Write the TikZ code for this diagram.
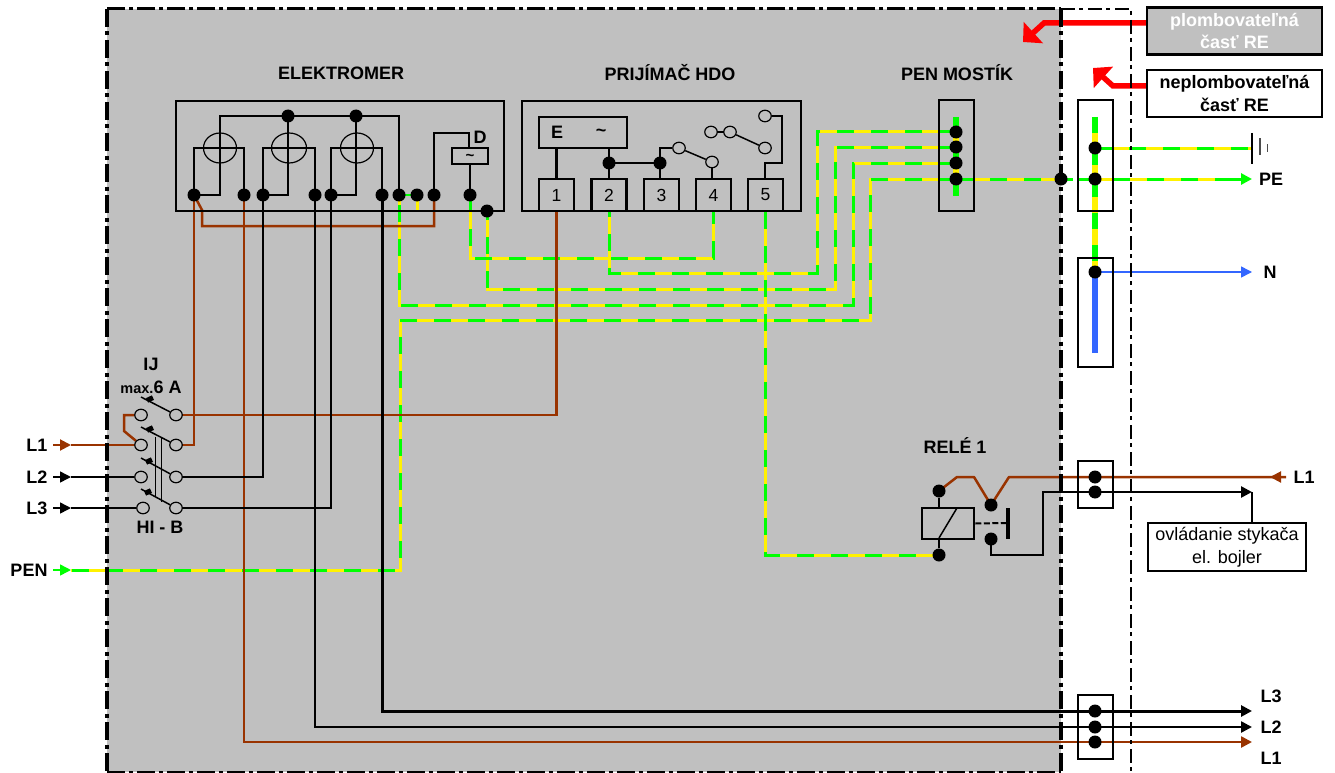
\documentclass[tikz,border=0pt]{standalone}
\usepackage{fontspec}
\setmainfont{Liberation Sans}
\usetikzlibrary{arrows.meta,backgrounds,shapes.geometric}
\definecolor{panelgray}{HTML}{C0C0C0}
\definecolor{wirebrown}{HTML}{993300}
\definecolor{wireblue}{HTML}{3366FF}

\begin{document}
\begin{tikzpicture}[
  x=1pt,y=-1pt,
  line join=miter,
  dot/.style={circle,fill=black,inner sep=0pt,minimum size=13pt},
  contact/.style={ellipse,draw,fill=panelgray,inner sep=0pt,line width=1.2pt,minimum width=12.5pt,minimum height=11.5pt},
  terminal/.style={draw,line width=2.5pt,inner sep=0pt,minimum width=35pt,minimum height=32pt,font=\fontsize{17.5}{19}\selectfont},
  title/.style={inner sep=0pt,font=\fontsize{18}{20}\selectfont\bfseries},
  strip/.style={draw,line width=2.5pt,inner sep=0pt,minimum width=35pt},
  notebox/.style={draw,line width=2.5pt,inner sep=0pt,minimum width=175pt,minimum height=47pt,align=center},
  wire/.style={line width=2.5pt,line cap=rect},
  brownwire/.style={wire,draw=wirebrown},
  penwire/.style={line width=3pt,draw=yellow,postaction={draw=green,dash pattern=on 17pt off 17pt}},
  penbar/.style={line width=6pt,draw=yellow,postaction={draw=green,dash pattern=on 16pt off 16pt}},
  tipped/.style={-{Triangle[length=11pt,width=11pt]}},
  redarrow/.style={line width=5.5pt,draw=red,-{Triangle[length=14pt,width=28pt]}},
  lever/.style={line width=1.5pt},
  tab/.style={fill=black,inner sep=0pt,minimum width=6.5pt,minimum height=5pt,rotate=25}
  ]
  \useasboundingbox (0,0) rectangle (1335,773);

  % headings
  \node[title] (ElText) at (341,73) {ELEKTROMER};
  \node[title] (HdoText) at (670,73) {PRIJÍMAČ HDO};
  \node[title] (MostText) at (957,73) {PEN MOSTÍK};
  \node[title] (ReleText) at (955,446) {RELÉ 1};

  % meter
  \node[draw,line width=2.5pt,minimum width=328pt,minimum height=110pt,inner sep=0pt] (Meter) at (340,156) {};
  \node[ellipse,draw,line width=1.2pt,minimum width=33pt,minimum height=30pt,inner sep=0pt] (C1) at (220,148) {};
  \node[ellipse,draw,line width=1.2pt,minimum width=35pt,minimum height=30pt,inner sep=0pt] (C2) at (289,148) {};
  \node[ellipse,draw,line width=1.2pt,minimum width=33pt,minimum height=30pt,inner sep=0pt] (C3) at (357,148) {};
  \node[dot] (Mt1) at (288,116) {};
  \node[dot] (Mt2) at (356,116) {};
  \node[dot] (M1) at (194,195) {};
  \node[dot] (M2) at (244,195) {};
  \node[dot] (M3) at (263,195) {};
  \node[dot] (M4) at (315,195) {};
  \node[dot] (M5) at (331,195) {};
  \node[dot] (M6) at (382,195) {};
  \node[dot] (M7) at (399,195) {};
  \node[dot] (M8) at (417,195) {};
  \node[dot] (M9) at (434,195) {};
  \node[dot] (M10) at (470,195) {};
  \node[dot] (M11) at (487,211) {};
  \node[draw,line width=2.5pt,minimum width=36pt,minimum height=16pt,inner sep=0pt] (Dbox) at (470,156) {};
  \node[inner sep=0pt,font=\fontsize{15}{17}\selectfont\bfseries] (Dwave) at (470,157) {\symbol{126}};
  \node[title] (Dtext) at (480,137) {D};
  \draw[wire] (M1.center) -- (194,148) -- (244,148) -- (M2.center);
  \draw[wire] (M3.center) -- (263,148) -- (315,148) -- (M4.center);
  \draw[wire] (M5.center) -- (331,148) -- (382,148) -- (M6.center);
  \draw[wire] (M1.center) -| (220,116) -- (Mt1.center) -- (Mt2.center) -| (M7.center);
  \draw[wire] (M3.center) -| (Mt1.center);
  \draw[wire] (M5.center) -| (Mt2.center);
  \draw[wire] (M9.center) |- (469,133) -- (Dbox.north -| 469,133);
  \draw[wire] (Dbox) -- (M10);

  % receiver
  \node[draw,line width=2.5pt,minimum width=279pt,minimum height=110pt,inner sep=0pt] (Hdo) at (661.5,156) {};
  \node[draw,line width=2.5pt,minimum width=88pt,minimum height=31pt,inner sep=0pt] (Ebox) at (583,132.5) {};
  \node[title] (Etext) at (557,132) {E};
  \node[title] (Wave) at (601,133) {\symbol{126}};
  \node[terminal] (T1) at (556.5,195) {1};
  \node[terminal] (T2) at (609,195) {2};
  \node[terminal] (T3) at (661.5,195) {3};
  \node[terminal] (T4) at (713.5,195) {4};
  \node[terminal] (T5) at (765.5,195) {5};
  \node[dot] (R1) at (609,163) {};
  \node[dot] (R2) at (660,163) {};
  \node[contact] (K1) at (679,148) {};
  \node[contact] (K2) at (712,162) {};
  \node[contact] (K3) at (711,132) {};
  \node[contact] (K4) at (730,132) {};
  \node[contact] (K5) at (765,148) {};
  \node[contact] (K6) at (765,116) {};
  \coordinate (Eb1) at (556.5,148);
  \coordinate (Eb2) at (609,148);
  \coordinate (K5up) at (782,116);
  \coordinate (K5low) at (782,163);
  \coordinate (K5t) at (765,163);
  \draw[wire,line cap=butt] (Eb1) -- (T1.north);
  \draw[wire,line cap=butt] (Eb2) -- (T2.north);
  \draw[wire] (R1) -- (R2);
  \draw[wire,line cap=butt] (T3.north -| R2) |- (K1);
  \draw[wire,line cap=butt] (K2) -- (T4.north -| K2);
  \draw[line width=1.5pt] (K1) -- (K2);
  \draw[wire] (K3) -- (K4);
  \draw[line width=1.5pt] (K4) -- (K5);
  \draw[wire,line cap=butt] (K6) -- (K5up) -- (K5low) -- (K5t) -- (T5.north -| K5t);

  % pen bridge and terminal strips
  \node[strip,minimum height=111pt] (Most) at (956.5,155.5) {};
  \node[dot] (P1) at (956,132) {};
  \node[dot] (P2) at (956,147) {};
  \node[dot] (P3) at (956,163) {};
  \node[dot] (P4) at (956,179) {};
  \node[dot] (Pm) at (1061,179) {};
  \node[strip,minimum height=111pt] (StripA) at (1095.5,155.5) {};
  \node[strip,minimum height=109pt] (StripB) at (1095.5,312.5) {};
  \node[strip,minimum height=47pt] (StripC) at (1095.5,484.5) {};
  \node[strip,minimum height=64pt] (StripD) at (1095.5,727) {};
  \node[dot] (A1) at (1095,148) {};
  \node[dot] (A2) at (1095,179) {};
  \node[dot] (N1) at (1095,272) {};
  \node[dot] (S1) at (1095,477) {};
  \node[dot] (S2) at (1095,492) {};
  \node[dot] (L3a) at (1095,711) {};
  \node[dot] (L2a) at (1095,727) {};
  \node[dot] (L1a) at (1095,742) {};

  % relay
  \node[draw,line width=2.5pt,minimum width=52pt,minimum height=31pt,inner sep=0pt] (Coil) at (948,523.5) {};
  \node[dot] (Q1) at (939,491) {};
  \node[dot] (Q2) at (939,555) {};
  \node[dot] (Q3) at (991,505) {};
  \node[dot] (Q4) at (991,539) {};
  \coordinate (Qbar) at (1008,523);
  \coordinate (Qup) at (1008,508);
  \coordinate (Qlow) at (1008,539);
  \coordinate (Qs) at (939,538);
  \coordinate (Qe) at (957,508);
  \draw[line width=1.5pt] (Qs) -- (Qe);
  \draw[wire,line cap=butt] (Q1) -- (Q1 |- Coil.north);
  \draw[wire,line cap=butt] (Q2) -- (Q2 |- Coil.south);
  \draw[line width=3.5pt] (Qup) -- (Qlow);
  \draw[line width=2pt,dash pattern=on 6pt off 2.5pt] (Coil.east) -- (Qbar);

  % switch
  \node[title] (IJtext) at (151,364) {IJ};
  \node[title] (MaxText) at (151,387) {{\fontsize{14.5}{16}\selectfont max.}6 A};
  \node[title] (HiText) at (160,527) {HI - B};
  \node[contact] (Sl1) at (141,415) {};
  \node[contact] (Sl2) at (141,445) {};
  \node[contact] (Sl3) at (141,477) {};
  \node[contact] (Sl4) at (143,508) {};
  \node[contact] (Sr1) at (176,415) {};
  \node[contact] (Sr2) at (176,445) {};
  \node[contact] (Sr3) at (176,477) {};
  \node[contact] (Sr4) at (176,508) {};
  \draw[lever] (141,397) -- (Sr1);
  \draw[lever] (141,427) -- (Sr2);
  \draw[lever] (141,458) -- (Sr3);
  \draw[lever] (141,489) -- (Sr4);
  \node[tab] (Tab1) at (150,399) {};
  \node[tab] (Tab2) at (150,429) {};
  \node[tab] (Tab3) at (149,461) {};
  \node[tab] (Tab4) at (148,492) {};
  \draw[line width=1pt] (155,437) -- (155,497);
  \draw[line width=1pt] (161,437) -- (161,502);

  % left feed labels
  \node[title] (InL1) at (37,445) {L1};
  \node[title] (InL2) at (37,477) {L2};
  \node[title] (InL3) at (37,508) {L3};
  \node[title] (InPen) at (29,570) {PEN};
  \coordinate (L1s) at (53,445);
  \coordinate (L1e) at (71,445);
  \coordinate (L2s) at (53,477);
  \coordinate (L2e) at (71,477);
  \coordinate (L3s) at (53,508);
  \coordinate (L3e) at (71,508);
  \coordinate (Pens) at (53,570);
  \coordinate (Pene) at (71,570);
  \draw[wirebrown,line width=2pt,tipped] (L1s) -- (L1e);
  \draw[line width=1.5pt,tipped] (L2s) -- (L2e);
  \draw[line width=1.5pt,tipped] (L3s) -- (L3e);
  \draw[green,line width=1.5pt,tipped] (Pens) -- (Pene);

  % right side labels
  \node[title] (OutPe) at (1271,179) {PE};
  \node[title] (OutN) at (1270,272) {N};
  \node[title] (OutL1a) at (1304,477) {L1};
  \node[title] (OutL3) at (1271,696) {L3};
  \node[title] (OutL2) at (1271,727) {L2};
  \node[title] (OutL1) at (1271,758) {L1};
  \node[draw,line width=2pt,inner sep=0pt,fill=white,minimum width=158pt,minimum height=48pt] (Boiler) at (1227,547) {};
  \node[inner sep=0pt,font=\fontsize{18}{20}\selectfont] (BoilA) at (1227,536) {ovládanie stykača};
  \node[inner sep=0pt,font=\fontsize{18}{20}\selectfont] (BoilB) at (1227,559) {el. bojler};
  \node[notebox,fill=panelgray,text=white,font=\fontsize{18}{22.5}\selectfont\bfseries] (Plomb) at (1234.5,31) {plombovateľná\\časť RE};
  \node[notebox,fill=white,font=\fontsize{18}{22.5}\selectfont\bfseries] (Neplomb) at (1234.5,93.5) {neplombovateľná\\časť RE};
  \coordinate (Pa1) at (1044,23);
  \coordinate (Pa2) at (1023,42);
  \coordinate (Na1) at (1113,86);
  \coordinate (Na2) at (1093,68);
  \draw[redarrow] (Plomb.west |- Pa1) -- (Pa1) -- (Pa2);
  \draw[redarrow] (Neplomb.west |- Na1) -- (Na1) -- (Na2);

  % earth
  \coordinate (Ea) at (1252,148);
  \draw[line width=2pt] (1252,133) -- (1252,164);
  \draw[line width=1.5pt,black!70] (1260,138) -- (1260,155);
  \draw[line width=1pt,black!70] (1267,144) -- (1267,152);

  % zone frame
  \draw[line width=3pt,dash pattern=on 18pt off 4pt on 4pt off 4pt] (107,9) -- (1061,9);
  \draw[line width=2pt,dash pattern=on 14pt off 4pt on 4pt off 5pt] (1061,9) -- (1131,9) -- (1131,773);
  \draw[line width=4pt,dash pattern=on 18pt off 4.5pt on 4pt off 4.5pt] (107,9) -- (107,773);
  \draw[line width=3.5pt,dash pattern=on 18pt off 4.5pt on 4pt off 4.5pt] (1061,9) -- (1061,773);
  \draw[line width=3pt,dash pattern=on 18pt off 4pt on 4pt off 4pt] (107,772) -- (1061,772);

  \begin{scope}[on background layer]
   \fill[panelgray] (107,9) rectangle (1061,772);

   % protective wiring
   \coordinate (BarA) at (956,117);
   \coordinate (BarB) at (956,196);
   \coordinate (BarC) at (1095,117);
   \coordinate (BarD) at (1095,353);
   \draw[penbar] (BarA) -- (BarB);
   \draw[penbar] (BarC) -- (N1.center);
   \draw[wireblue,line width=6pt] (N1.center) -- (BarD);
   \draw[penwire] (P1.center) -- (817,132) -- (817,273) -| (T2.south);
   \draw[penwire] (P2.center) -- (835,147) -- (835,289) -| (M11.center);
   \draw[penwire] (P3.center) -- (853,163) -- (853,305) -| (M7.center);
   \draw[penwire] (P4.center) -- (870,179) -- (870,320) -- (400,320) |- (Pene);
   \draw[penwire] (M10.center) |- (713,258) -- (T4.south -| 713,258);
   \draw[penwire] (T5.south) -- (765.5,555) -- (Q2.center);
   \draw[green,line width=2.5pt] (M7.center) -- (M8.center);
   \draw[line width=3pt,yellow] (M8.center) -- (M8.center |- Meter.south);
   \draw[penwire] (P4.center) -- (Pm.center) -- (1073,179);
   \draw[penwire] (1079,179) -- (A2.center) -- (1218,179);
   \draw[green,line width=3pt,tipped] (1218,179) -- (1252,179);
   \draw[penwire] (A1.center) -- (Ea);
   \draw[wireblue,line width=1.5pt,tipped] (N1.center) -- (1252,272);

   % phase wiring
   \coordinate (JogA) at (202,210);
   \coordinate (JogB) at (202,226);
   \draw[brownwire] (Sr2) -| (M1.center);
   \draw[brownwire] (M1.center) -- (JogA) -- (JogB) -| (M9.center);
   \draw[brownwire] (Sr1) -| (T1.south);
   \draw[brownwire,tipped,line cap=butt] (M2.center) |- (1252,742);
   \draw[wire,tipped,line cap=butt] (M4.center) |- (1252,727);
   \draw[wire,line width=3pt,tipped,line cap=butt] (M6.center) |- (1252,711);
   \draw[wire] (Sr3) -| (M3.center);
   \draw[wire] (Sr4) -| (M5.center);
   \draw[brownwire,line cap=butt] (L1e) -- (Sl2);
   \draw[wire,line cap=butt] (L2e) -- (Sl3);
   \draw[wire,line cap=butt] (L3e) -- (Sl4);
   \draw[brownwire,line cap=butt] (Sl1) -- (124,415) -- (124,431) -- (Sl2);

   % relay wiring
   \coordinate (OutTip) at (1270,477);
   \coordinate (OutEnd) at (1286,477);
   \draw[brownwire,line cap=butt,line join=round] (Q1.center) -- (957,477) -- (974,477) -- (Q3.center) -- (1009,477) -- (OutEnd);
   \draw[wirebrown,line width=2pt,tipped] (OutEnd) -- (OutTip);
   \draw[wire,line cap=butt] (Q4.center) |- (1043,555) |- (S2.center);
   \draw[wire,line cap=butt,tipped] (S2.center) -- (1252,492);
   \draw[wire,line cap=butt] (1252,492) -- (Boiler.north -| 1252,492);
  \end{scope}
 \end{tikzpicture}
\end{document}
